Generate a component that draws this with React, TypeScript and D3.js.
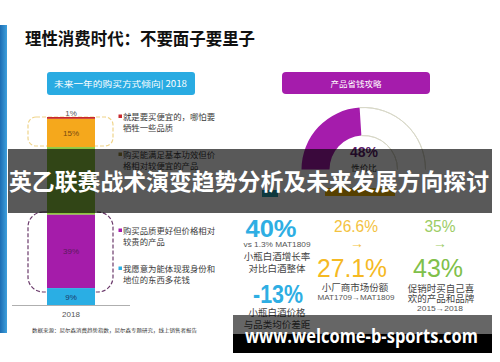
import React from "react";
import * as d3 from "d3";

// stacked bar, top to bottom
const barLabels = ["1%", "15%", "36%", "39%", "9%"];
const barValues = [1, 15, 36, 39, 9];
const barColors = ["#c8282e", "#f5a81c", "#8dc63f", "#a51caa", "#2aaee4"];
const barTextColors = ["#555", "#7a4a10", "none", "#5a1a5a", "#1a3a6a"];
const barYear = "2018";

const legendLines = [
  ["就是要买便宜的，哪怕要", "牺牲一些品质"],
  ["购买能满足基本功效但价", "格相对较便宜的产品"],
  ["购买品质更好但价格相对", "较贵的产品"],
  ["我愿意为能体现我身份和", "地位的东西多花钱"],
];
const legendColors = ["#c8282e", "#9a8a3a", "#a51caa", "#2aaee4"];

const gaugeValue = 48;
const gaugeLabel = "性价比";

const statBlue = ["40%", "vs 1.3% MAT1809", "小瓶白酒增长率", "对比白酒整体", "-13%", "小瓶白酒价格", "与品类均价差距"];
const statYellow = ["26.6%", "→", "27.1%", "小厂商市场份额", "MAT1709→MAT1809"];
const statGreen = ["35%", "→", "43%", "促销时买自己喜", "欢的产品和品牌", "2015→2018"];

const title = "理性消费时代：不要面子要里子";
const leftHeader = "未来一年的购买方式倾向| 2018";
const rightHeader = "产品省钱攻略";
const source = "数据来源：尼尔森消费趋势指数，尼尔森专题研究，线上销售者报告";
const banner = "英乙联赛战术演变趋势分析及未来发展方向探讨";
const watermark = "www.welcome-b-sports.com";

const cjk = "'Noto Sans CJK SC', sans-serif";
const num = "'Liberation Sans', Arial, sans-serif";
const fit = "spacingAndGlyphs";

export default function App() {
  // bar
  const y = d3.scaleLinear().domain([0, 100]).range([305, 117]);
  const bx = 47, bw = 48;
  const fromBottom = barValues.slice().reverse();
  const cum = Array.from(d3.cumsum(fromBottom));
  const segs = barValues.map((v, i) => {
    const bi = barValues.length - 1 - i;
    const top = cum[bi];
    return { v, i, y0: top - v, y1: top };
  });

  // gauge
  const cx = 363.5, cy = 169.5, rIn = 34, rOut = 62;
  const ang = d3.scaleLinear().domain([0, 100]).range([-Math.PI / 2, Math.PI / 2]);
  const arc = d3.arc<any>();
  const filled = arc({ innerRadius: rIn, outerRadius: rOut, startAngle: ang(0), endAngle: ang(gaugeValue) }) as string;
  const restOut = arc({ innerRadius: rOut, outerRadius: rOut, startAngle: ang(gaugeValue), endAngle: ang(100) }) as string;
  const restIn = arc({ innerRadius: rIn, outerRadius: rIn, startAngle: ang(gaugeValue), endAngle: ang(100) }) as string;

  const legendY = [117, 155, 231, 269];

  return (
    <svg width={500} height={362} style={{ position: "absolute", left: 0, top: 0 }}>
      <defs>
        <linearGradient id="stripe" x1="0" x2="1" y1="0" y2="0">
          <stop offset="0" stopColor="#1c6db3" />
          <stop offset="1" stopColor="#3ea0dc" />
        </linearGradient>
      </defs>
      <rect width={500} height={362} fill="#fff" />
      <rect x={0} y={25} width={7} height={308} fill="url(#stripe)" />

      <text x={25} y={45} fontFamily={cjk} fontWeight={700} fontSize={17} fill="#111" textLength={230} lengthAdjust={fit}>{title}</text>

      {/* left header */}
      <rect x={47} y={72} width={148} height={23} rx={3} fill="#29abe2" />
      <text x={54} y={87} fontFamily={cjk} fontSize={8.5} fill="#fff" textLength={133} lengthAdjust={fit}>{leftHeader}</text>

      {/* dashed boxes */}
      <rect x={28} y={117} width={85} height={29} rx={8} fill="none" stroke="#efd48a" strokeWidth={1.2} strokeDasharray="4 2" />
      <rect x={28} y={212} width={85} height={80} rx={15} fill="none" stroke="#6b3a6b" strokeWidth={1.2} strokeDasharray="4 2" />

      {segs.map((s) => (
        <rect key={s.i} x={bx} width={bw} y={y(s.y1)} height={y(s.y0) - y(s.y1)} fill={barColors[s.i]} />
      ))}
      {segs.map((s) =>
        barTextColors[s.i] === "none" ? null : (
          <text key={"t" + s.i} x={bx + bw / 2} y={s.v < 3 ? y(s.y1) - 1 : (y(s.y0) + y(s.y1)) / 2 + 3}
            textAnchor="middle" fontFamily={num} fontSize={8} fill={barTextColors[s.i]}>{barLabels[s.i]}</text>
        )
      )}
      <line x1={12} x2={130} y1={305.5} y2={305.5} stroke="#9a9a9a" strokeWidth={0.8} />
      <text x={71} y={317} textAnchor="middle" fontFamily={num} fontSize={8} fill="#555">{barYear}</text>
      <text x={32} y={332} fontFamily={cjk} fontSize={5} fill="#333" textLength={165} lengthAdjust={fit}>{source}</text>

      {legendLines.map((lines, i) => (
        <g key={i}>
          <rect x={118.5} y={legendY[i] - 2.5} width={3.5} height={3.5} fill={legendColors[i]} />
          {lines.map((t, j) => (
            <text key={j} x={123} y={legendY[i] + 3 + j * 10.5} fontFamily={cjk} fontSize={8.4} fill="#3a3a3a">{t}</text>
          ))}
        </g>
      ))}

      {/* right header + gauge */}
      <rect x={282} y={72} width={148} height={22} rx={4} fill="#a51cac" />
      <text x={356} y={86.5} textAnchor="middle" fontFamily={cjk} fontSize={8.5} fill="#fff">{rightHeader}</text>
      <path d={filled} transform={`translate(${cx},${cy})`} fill="#a51cac" />
      <path d={restOut} transform={`translate(${cx},${cy})`} fill="none" stroke="#d8d8c8" strokeWidth={1} />
      <path d={restIn} transform={`translate(${cx},${cy})`} fill="none" stroke="#d8d8c8" strokeWidth={1} />
      <text x={364} y={157} textAnchor="middle" fontFamily={num} fontWeight={700} fontSize={14} fill="#5a1a6a">{gaugeValue}%</text>
      <text x={364} y={171} textAnchor="middle" fontFamily={cjk} fontSize={8.5} fill="#333">{gaugeLabel}</text>
      {/* bits hidden under the banner */}
      <rect x={262} y={190} width={16} height={7} fill="#2aa0b0" />
      <rect x={325} y={188} width={70} height={8} fill="#f5b800" />

      {/* stats: blue */}
      <text x={271} y={237} textAnchor="middle" fontFamily={num} fontWeight={700} fontSize={23} fill="#2eaee3" textLength={51} lengthAdjust={fit}>{statBlue[0]}</text>
      <text x={277} y={247} textAnchor="middle" fontFamily={num} fontSize={7} fill="#555" textLength={67} lengthAdjust={fit}>{statBlue[1]}</text>
      <text x={277} y={260} textAnchor="middle" fontFamily={cjk} fontSize={9.5} fill="#444">{statBlue[2]}</text>
      <text x={277} y={272} textAnchor="middle" fontFamily={cjk} fontSize={9.5} fill="#444">{statBlue[3]}</text>
      <text x={278} y={303} textAnchor="middle" fontFamily={num} fontWeight={700} fontSize={25} fill="#2eaee3" textLength={50} lengthAdjust={fit}>{statBlue[4]}</text>
      <text x={277} y={316} textAnchor="middle" fontFamily={cjk} fontSize={9.5} fill="#444">{statBlue[5]}</text>
      <text x={277} y={328} textAnchor="middle" fontFamily={cjk} fontSize={9.5} fill="#444">{statBlue[6]}</text>

      {/* stats: yellow */}
      <text x={356} y={232} textAnchor="middle" fontFamily={num} fontSize={17} fill="#f3c23e" textLength={44} lengthAdjust={fit}>{statYellow[0]}</text>
      <text x={357} y={248} textAnchor="middle" fontFamily={num} fontSize={14} fill="#f3c23e">{statYellow[1]}</text>
      <text x={352} y={277} textAnchor="middle" fontFamily={num} fontSize={26} fill="#f5b923" textLength={70} lengthAdjust={fit}>{statYellow[2]}</text>
      <text x={355} y={291} textAnchor="middle" fontFamily={cjk} fontSize={9.5} fill="#444">{statYellow[3]}</text>
      <text x={356} y={300} textAnchor="middle" fontFamily={num} fontSize={7} fill="#555" textLength={77} lengthAdjust={fit}>{statYellow[4]}</text>

      {/* stats: green */}
      <text x={440} y={232} textAnchor="middle" fontFamily={num} fontSize={17} fill="#9ccc65" textLength={31} lengthAdjust={fit}>{statGreen[0]}</text>
      <text x={440} y={248} textAnchor="middle" fontFamily={num} fontSize={14} fill="#9ccc65">{statGreen[1]}</text>
      <text x={438} y={277} textAnchor="middle" fontFamily={num} fontSize={26} fill="#80c04a" textLength={50} lengthAdjust={fit}>{statGreen[2]}</text>
      <text x={441} y={292} textAnchor="middle" fontFamily={cjk} fontSize={9.5} fill="#444">{statGreen[3]}</text>
      <text x={441} y={302} textAnchor="middle" fontFamily={cjk} fontSize={9.5} fill="#444">{statGreen[4]}</text>
      <text x={440} y={311} textAnchor="middle" fontFamily={num} fontSize={7} fill="#555" textLength={46} lengthAdjust={fit}>{statGreen[5]}</text>

      {/* banner overlay */}
      <rect x={8} y={149} width={484} height={64} fill="#000" fillOpacity={0.65} />
      <text x={9} y={190} fontFamily={cjk} fontWeight={700} fontSize={23} fill="#fff" textLength={480} lengthAdjust={fit}>{banner}</text>

      {/* watermark */}
      <rect x={233} y={315} width={259} height={19} fill="#000" fillOpacity={0.6} />
      <rect x={233} y={334} width={259} height={19} fill="#000" />
      <text x={245} y={343} fontFamily="'Open Sans', sans-serif" fontWeight={700} fontSize={20} fill="#fff" textLength={233} lengthAdjust={fit}>{watermark}</text>
    </svg>
  );
}
